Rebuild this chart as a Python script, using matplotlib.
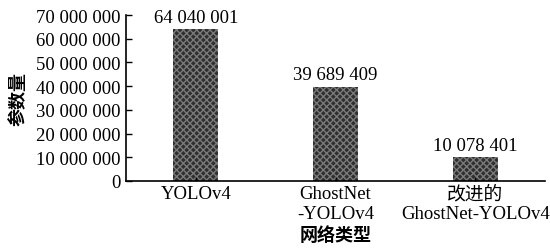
import matplotlib.pyplot as plt

plt.rcParams['font.family'] = ['Liberation Serif', 'Noto Sans CJK SC']

networks = ["YOLOv4", "GhostNet\n-YOLOv4", "改进的\nGhostNet-YOLOv4"]
params = [64040001, 39689409, 10078401]
yticks = [0, 10000000, 20000000, 30000000, 40000000, 50000000, 60000000, 70000000]


def fmt(v):
    return f"{v:,}".replace(",", " ")


fig = plt.figure(figsize=(5.5, 2.51), dpi=100)
ax = fig.add_axes([0.229, 0.275, 0.762, 0.661])

x = list(range(len(networks)))
ax.bar(x, params, width=0.32, color='#2f2f2f', edgecolor='#7a7a7a',
       hatch='xxxxx', linewidth=0)
for xi, v in zip(x, params):
    ax.text(xi, v + 1500000, fmt(v), ha='center', va='bottom', fontsize=13.5)

ax.set_xlim(-0.5, 2.5)
ax.set_ylim(0, 70000000)
ax.set_yticks(yticks)
ax.set_yticklabels([fmt(v) for v in yticks], fontsize=13.5)
ax.set_xticks(x)
ax.set_xticklabels(networks, fontsize=13.5, linespacing=1.2)
ax.tick_params(direction='in', length=4, width=1)
ax.tick_params(axis='x', length=3, pad=3)
ax.tick_params(axis='y', pad=4)

ax.spines['top'].set_visible(False)
ax.spines['right'].set_visible(False)
ax.spines['left'].set_linewidth(1.2)
ax.spines['bottom'].set_linewidth(1.2)

ax.set_ylabel("参数量", fontsize=13, fontweight='bold', labelpad=6)
ax.set_xlabel("网络类型", fontsize=13, fontweight='bold', labelpad=3)

fig.savefig("out.png", dpi=100)
